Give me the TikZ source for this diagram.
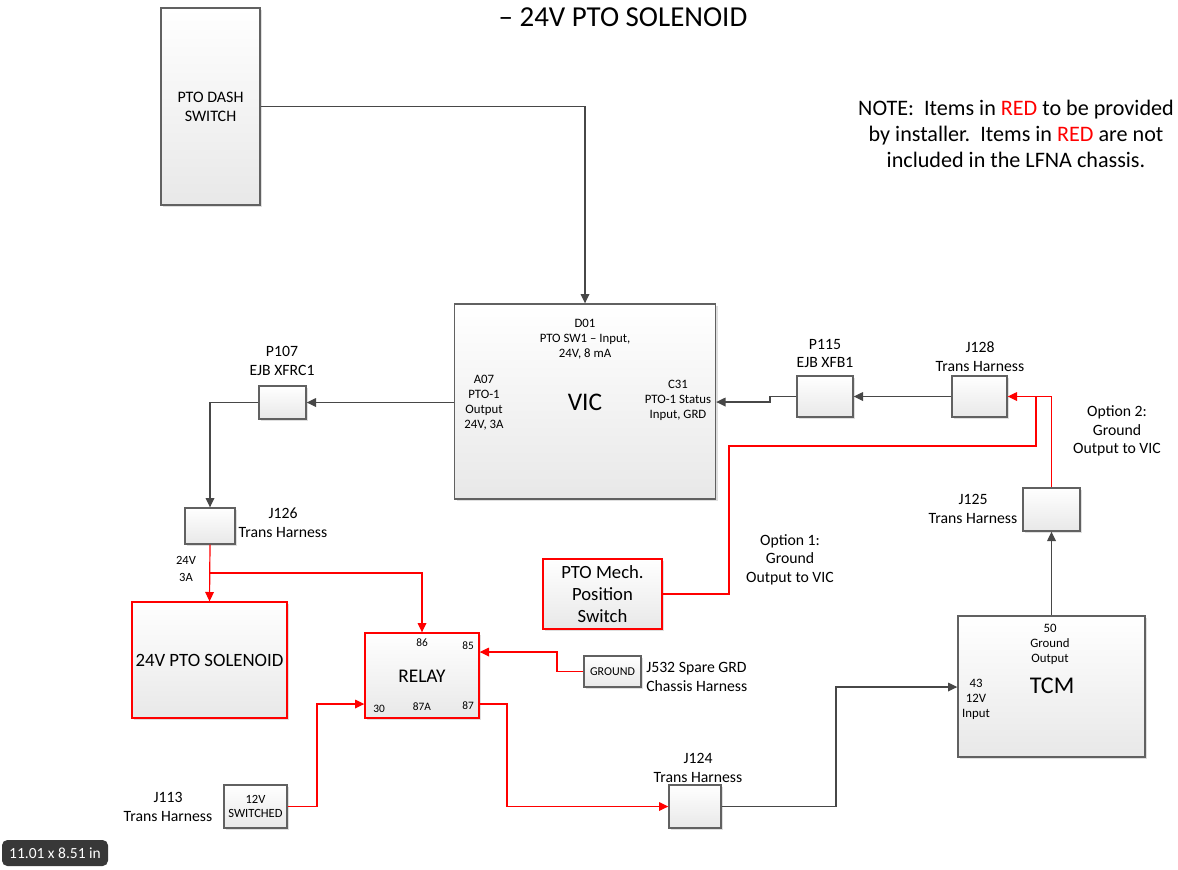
\documentclass[tikz,border=0pt]{standalone}
\usepackage{fontspec}
\setmainfont{Carlito}
\usepackage{tikz}
\usetikzlibrary{arrows.meta, positioning, shadows}

\begin{document}
\begin{tikzpicture}[
    x=0.75pt, y=-0.75pt,
    box/.style={draw=black!62, line width=1pt, top color=white, bottom color=black!9,
                drop shadow={shadow xshift=1.6pt, shadow yshift=-1.6pt, opacity=0.25},
                inner sep=0pt, align=center},
    redbox/.style={box, draw=red},
    dim/.style 2 args={minimum width=#1*0.75pt, minimum height=#2*0.75pt},
    tag/.style={font=\fontsize{11.8}{14}\selectfont, align=center, inner sep=0pt},
    pin/.style={font=\fontsize{9.6}{11.25}\selectfont, align=center, inner sep=0pt},
    relaypin/.style={font=\fontsize{8.5}{10}\selectfont, inner sep=0pt},
    wire/.style={draw=black!72, line width=0.9pt, -{Triangle[length=7pt,width=6.5pt]}},
    redwire/.style={wire, draw=red},
    redline/.style={draw=red, line width=0.9pt},
  ]
  \useasboundingbox (0,0) rectangle (1178,869);

  % --- title and note ---
  \node[font=\fontsize{21.7}{24}\selectfont, inner sep=0pt] (title) at (623,17) {– 24V PTO SOLENOID};
  \node[font=\fontsize{16.6}{19.5}\selectfont, align=center, inner sep=0pt] (note) at (1016,134)
    {NOTE:\ \ Items in \textcolor{red}{RED} to be provided\\by installer.\ \ Items in \textcolor{red}{RED} are not\\included in the LFNA chassis.};

  % --- dash switch and VIC ---
  \node[box, dim={99}{197}, font=\fontsize{12}{14.25}\selectfont] (dash) at (210.5,106.5) {PTO DASH\\SWITCH};
  \node[box, dim={261}{195}] (vic) at (585,401.5) {};
  \node[font=\fontsize{19}{20}\selectfont, inner sep=0pt] (viclbl) at (585,402) {VIC};
  \node[pin] (vicd01) at (585,339) {D01\\PTO SW1 – Input,\\24V, 8 mA};
  \node[pin] (vica07) at (484,402.5) {A07\\PTO-1\\Output\\24V, 3A};
  \node[pin] (vicc31) at (678,400) {C31\\PTO-1 Status\\Input, GRD};

  % --- left branch: P107, J126, solenoid ---
  \node[box, dim={47}{33}] (p107) at (282.5,402.5) {};
  \node[tag] (p107lbl) at (282,361) {P107\\EJB XFRC1};
  \node[box, dim={50}{36}] (j126) at (210,526) {};
  \node[tag] (j126lbl) at (283,523) {J126\\Trans Harness};
  \node[font=\fontsize{9.4}{12.75}\selectfont, align=center, inner sep=0pt] (j126amp) at (186,569) {24V\\3A};
  \node[redbox, dim={155}{116}, font=\fontsize{14.1}{18}\selectfont] (sol) at (209.5,660) {24V PTO SOLENOID};

  % --- relay ---
  \node[redbox, dim={114}{85}] (relay) at (422,675.5) {};
  \node[font=\fontsize{14.5}{17}\selectfont, inner sep=0pt] (relaylbl) at (422,676) {RELAY};
  \foreach \nm/\x/\y in {86/422/643, 85/468/646, 30/379/709, 87A/422/707, 87/468/706}
    \node[relaypin] (pin\nm lbl) at (\x,\y) {\nm};
  \node[box, dim={57}{31}, font=\fontsize{9}{10}\selectfont] (gnd) at (612.5,671.5) {GROUND};
  \node[tag, anchor=west, align=left] (gndlbl) at (646,677) {J532 Spare GRD\\Chassis Harness};
  \node[box, dim={63}{43}, font=\fontsize{9.4}{11}\selectfont] (sw12) at (255.5,806.5) {12V\\SWITCHED};
  \node[tag] (sw12lbl) at (168,807) {J113\\Trans Harness};
  \node[box, dim={52}{43}] (j124) at (695,806.5) {};
  \node[tag] (j124lbl) at (698,768) {J124\\Trans Harness};

  % --- TCM and right branch ---
  \node[box, dim={187}{141}] (tcm) at (1051.5,686.5) {};
  \node[font=\fontsize{18}{20}\selectfont, inner sep=0pt] (tcmlbl) at (1052,686) {TCM};
  \node[pin] (tcm50) at (1050,644) {50\\Ground\\Output};
  \node[pin] (tcm43) at (976,699.5) {43\\12V\\Input};
  \node[box, dim={57}{43}] (j125) at (1051.5,509.5) {};
  \node[tag] (j125lbl) at (973,509) {J125\\Trans Harness};
  \node[box, dim={55}{41}] (j128) at (979.5,396.5) {};
  \node[tag] (j128lbl) at (980,356.5) {J128\\Trans Harness};
  \node[box, dim={56}{41}] (p115) at (825,396.5) {};
  \node[tag] (p115lbl) at (825,353.5) {P115\\EJB XFB1};
  \node[redbox, dim={119}{70}, font=\fontsize{14}{16.5}\selectfont] (mech) at (602.5,594) {PTO Mech.\\Position\\Switch};
  \node[tag] (opt1) at (790,559.5) {Option 1:\\Ground\\Output to VIC};
  \node[tag] (opt2) at (1117,431) {Option 2:\\Ground\\Output to VIC};

  % --- screen badge ---
  \node[fill=black!78, rounded corners=4pt, text=white, font=\fontsize{11.6}{13}\selectfont,
        minimum width=106*0.75pt, minimum height=26*0.75pt, inner sep=0pt] (badge) at (55,853) {11.01 x 8.51 in};

  % --- bend points ---
  \coordinate (split) at (210,573);
  \coordinate (pin85) at (relay.east |- 0,652);
  \coordinate (gndbend) at (557,652);
  \coordinate (pin30) at (relay.west |- 0,704);
  \coordinate (swbend) at (317,704);
  \coordinate (pin87) at (relay.east |- 0,704);
  \coordinate (bend87) at (507,704);
  \coordinate (pin43) at (tcm.west |- 0,687);
  \coordinate (tcmbend) at (836,687);
  \coordinate (join) at (1036,396.5);
  \coordinate (mechbend) at (729,446);
  \coordinate (jog) at (770,396.5);
  \coordinate (pinc31) at (vic.east |- 0,402);

  % --- black wires ---
  \draw[wire] (dash.east) -| (vic.north);
  \draw[wire] (vic.west |- p107.east) -- (p107.east);
  \draw[wire] (p107.west) -| (j126.north);
  \draw[wire] (j128.west) -- (p115.east);
  \draw[wire] (p115.west) -- (jog) |- (pinc31);
  \draw[wire] (j124.east) -| (tcmbend) -- (pin43);
  \draw[wire] (tcm.north) -- (j125.south);

  % --- red wires ---
  \draw[redwire] (j126.south) -- (sol.north);
  \draw[redwire] (split) -| (relay.north);
  \draw[redwire] (gnd.west) -| (gndbend) -- (pin85);
  \draw[redwire] (sw12.east) -| (swbend) -- (pin30);
  \draw[redwire] (pin87) -- (bend87) |- (j124.west);
  \draw[redwire] (j125.north) |- (j128.east);
  \draw[redline] (mech.east) -| (mechbend) -| (join);
\end{tikzpicture}
\end{document}
